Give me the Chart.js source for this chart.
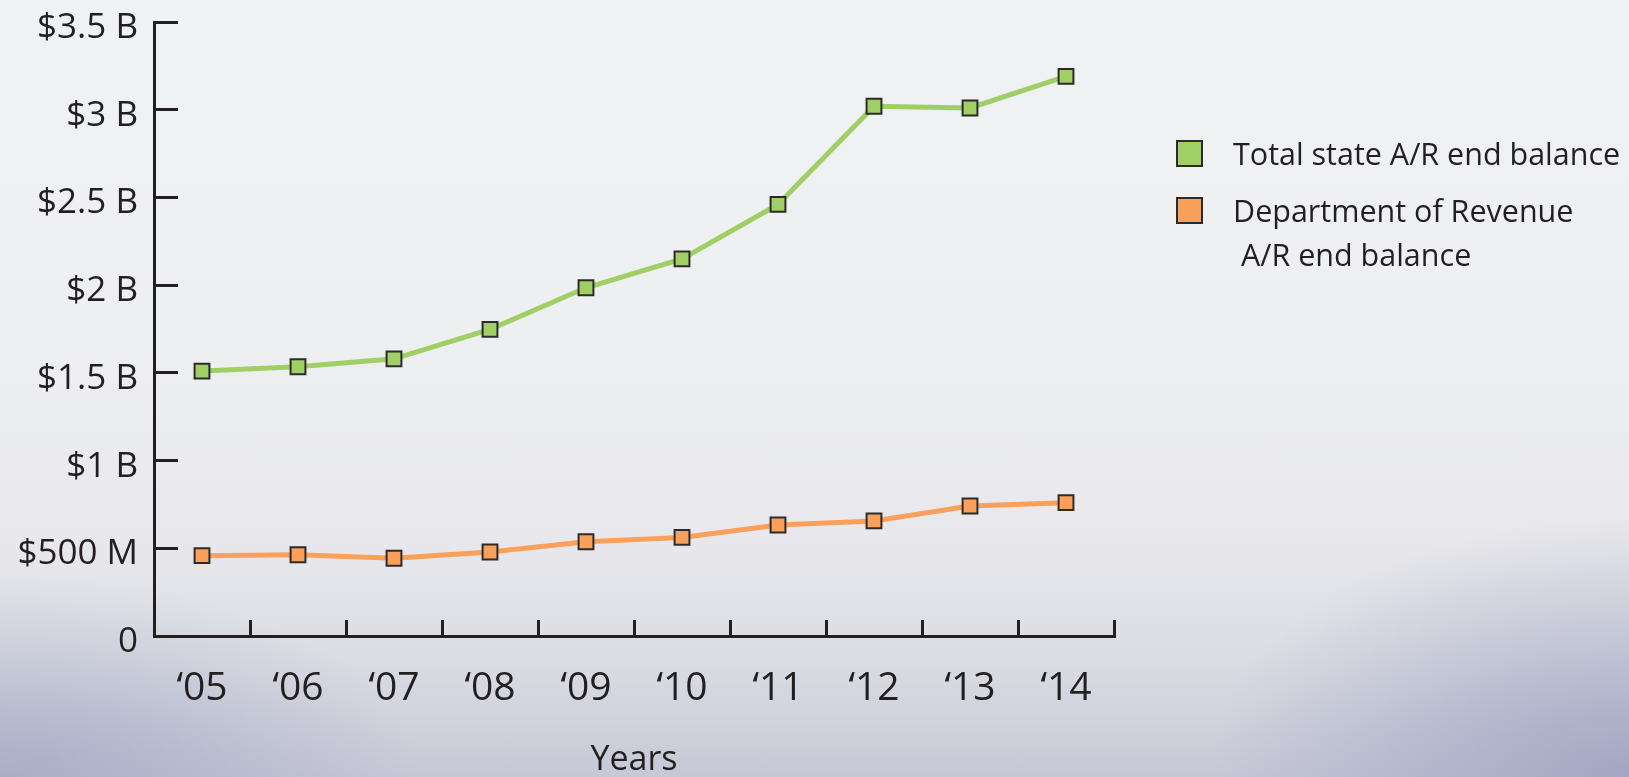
<!DOCTYPE html>
<html>
<head>
<meta charset="utf-8">
<title>A/R end balance</title>
<script src="https://cdn.jsdelivr.net/npm/chart.js@4.4.0/dist/chart.umd.min.js"></script>
<style>
  html, body { margin: 0; padding: 0; }
  body {
    width: 1629px;
    height: 777px;
    overflow: hidden;
    background:
      radial-gradient(ellipse 420px 260px at 100% 100%, rgba(150,155,188,0.75), rgba(150,155,188,0) 100%),
      radial-gradient(ellipse 420px 200px at 0% 100%, rgba(150,155,188,0.6), rgba(150,155,188,0) 100%),
      linear-gradient(to bottom, #eff2f3 0%, #eeeff1 45%, #e8e8ec 70%, #dadce3 85%, #c6c8d6 100%);
  }
  canvas { display: block; }
</style>
</head>
<body>
<canvas id="chart" width="1629" height="777"></canvas>
<script>
// fiscal years
const years = ['\u201805', '\u201806', '\u201807', '\u201808', '\u201809', '\u201810', '\u201811', '\u201812', '\u201813', '\u201814'];

// end balances, $ millions
const totalState = [1510, 1535, 1580, 1748, 1985, 2150, 2460, 3020, 3010, 3190];
const revenueDept = [458, 463, 443, 479, 537, 562, 633, 656, 741, 760];

// legend text, one entry per line
const totalLabel = ['Total state A/R end balance'];
const revenueLabel = ['Department of Revenue', ' A/R end balance'];

const GREEN = '#a0cf65';
const ORANGE = '#f9a05b';
const INK = '#231f20';
const FONT = "'Open Sans', 'DejaVu Sans', sans-serif";

function money(v) {
  if (v === 0) return '0';
  if (v < 1000) return '$' + v + ' M';
  return '$' + (v / 1000) + ' B';
}

// legend drawn beside the plot, with the revenue label on two lines
const sideLegend = {
  id: 'sideLegend',
  afterDraw(chart) {
    const ctx = chart.ctx;
    const area = chart.chartArea;
    const boxX = area.right + 63;
    const textX = boxX + 56;
    let y = area.top + 131;
    ctx.save();
    ctx.font = '30.5px ' + FONT;
    ctx.textBaseline = 'alphabetic';
    chart.data.datasets.forEach(ds => {
      ctx.fillStyle = ds.pointBackgroundColor;
      ctx.fillRect(boxX, y - 12, 25, 25);
      ctx.lineWidth = 2;
      ctx.strokeStyle = '#2b2b2b';
      ctx.strokeRect(boxX, y - 12, 25, 25);
      ctx.fillStyle = INK;
      ds.legendLines.forEach((line, i) => {
        ctx.fillText(line, textX, y + 12 + i * 44);
      });
      y += 57;
    });
    ctx.restore();
  }
};

new Chart(document.getElementById('chart'), {
  type: 'line',
  data: {
    labels: years,
    datasets: [
      {
        label: totalLabel.join(' '),
        legendLines: totalLabel,
        data: totalState,
        borderColor: GREEN,
        borderWidth: 5,
        pointStyle: 'rect',
        pointRadius: 10.5,
        pointBackgroundColor: GREEN,
        pointBorderColor: '#2b2b2b',
        pointBorderWidth: 2,
        tension: 0
      },
      {
        label: revenueLabel.join(''),
        legendLines: revenueLabel,
        data: revenueDept,
        borderColor: ORANGE,
        borderWidth: 5,
        pointStyle: 'rect',
        pointRadius: 10.5,
        pointBackgroundColor: ORANGE,
        pointBorderColor: '#2b2b2b',
        pointBorderWidth: 2,
        tension: 0
      }
    ]
  },
  options: {
    responsive: false,
    animation: false,
    events: [],
    layout: { padding: { top: 22, right: 515, left: 0, bottom: 0 } },
    plugins: {
      legend: { display: false },
      tooltip: { enabled: false }
    },
    scales: {
      x: {
        offset: true,
        grid: {
          offset: true,
          drawOnChartArea: false,
          tickLength: -16,
          tickColor: INK,
          tickWidth: 3
        },
        border: { color: INK, width: 3 },
        ticks: {
          color: INK,
          padding: 45,
          maxRotation: 0,
          font: { family: FONT, size: 39 }
        },
        title: {
          display: true,
          text: 'Years',
          color: INK,
          padding: { top: 0, bottom: -4 },
          font: { family: FONT, size: 34 }
        },
        afterFit(scale) {
          scale.height = 141;
          scale.paddingLeft = 0;
          scale.paddingRight = 0;
        }
      },
      y: {
        min: 0,
        max: 3500,
        grid: {
          drawOnChartArea: false,
          tickLength: -24,
          tickColor: INK,
          tickWidth: 3
        },
        border: { color: INK, width: 3 },
        ticks: {
          stepSize: 500,
          color: INK,
          padding: 40,
          labelOffset: 6,
          font: { family: FONT, size: 35 },
          callback: v => money(v)
        },
        afterFit(scale) {
          scale.width = 154;
          scale.paddingTop = 0;
          scale.paddingBottom = 0;
        }
      }
    }
  },
  plugins: [sideLegend]
});
</script>
</body>
</html>
